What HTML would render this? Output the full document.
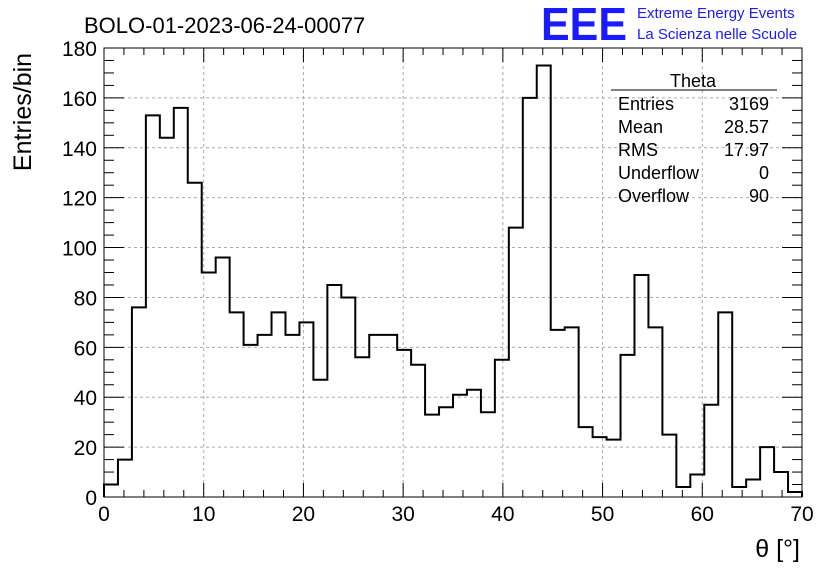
<!DOCTYPE html>
<html><head><meta charset="utf-8"><style>
body{margin:0;background:#fff}
svg{display:block;font-family:"Liberation Sans",sans-serif}
</style></head><body>
<svg id="c" width="836" height="572">
<text x="84" y="33" font-size="22">BOLO-01-2023-06-24-00077</text>
<text x="541" y="40" font-size="46" fill="#1a1aff" font-weight="bold" textLength="86" lengthAdjust="spacingAndGlyphs">EEE</text>
<text x="637" y="18" font-size="15" fill="#1a1aff">Extreme Energy Events</text>
<text x="637" y="39" font-size="15" fill="#1a1aff">La Scienza nelle Scuole</text>
<text transform="translate(31,112) rotate(-90)" font-size="25" text-anchor="middle">Entries/bin</text>
<text x="800" y="557" font-size="25" text-anchor="end">θ [°]</text>
<g id="grid"></g><g id="ticks"></g><g id="hist"></g>
<rect x="104" y="48" width="698" height="449" fill="none" stroke="#000" stroke-width="1"/>
<g font-size="18">
<line x1="611" y1="90" x2="777" y2="90" stroke="#000"/>
<text x="693" y="87" text-anchor="middle">Theta</text>
<text x="618" y="110">Entries</text><text x="769" y="110" text-anchor="end">3169</text>
<text x="618" y="133">Mean</text><text x="769" y="133" text-anchor="end">28.57</text>
<text x="618" y="156">RMS</text><text x="769" y="156" text-anchor="end">17.97</text>
<text x="618" y="179">Underflow</text><text x="769" y="179" text-anchor="end">0</text>
<text x="618" y="202">Overflow</text><text x="769" y="202" text-anchor="end">90</text>
</g>
</svg>
<script>
const counts=[5,15,76,153,144,156,126,90,96,74,61,65,74,65,70,47,85,80,56,65,65,59,53,33,36,41,43,34,55,108,160,173,67,68,28,24,23,57,89,68,25,4,9,37,74,4,7,20,10,2];
const xTicks=[0,10,20,30,40,50,60,70];
const yTicks=[0,20,40,60,80,100,120,140,160,180];
const binWidth=1.4;
const NS="http://www.w3.org/2000/svg";
const X0=104,X1=802,Y0=497,Y1=48;
const xs=v=>X0+(v-0)/70*(X1-X0);
const ys=v=>Y0-(v/180)*(Y0-Y1);
function mk(t,a,p){const e=document.createElementNS(NS,t);for(const k in a)e.setAttribute(k,a[k]);p.appendChild(e);return e;}
const grid=document.getElementById('grid'),ticks=document.getElementById('ticks'),hist=document.getElementById('hist');
xTicks.forEach(v=>{
 const x=xs(v);
 if(v>0&&v<70){const g=mk('line',{x1:x,x2:x,y1:Y1,y2:Y0,stroke:'#aaa','stroke-dasharray':'3,3'},grid);
 
 }
 mk('line',{x1:x,x2:x,y1:Y0,y2:Y0-14,stroke:'#000'},ticks);
 mk('line',{x1:x,x2:x,y1:Y1,y2:Y1+14,stroke:'#000'},ticks);
 const t=mk('text',{x:x,y:521,'font-size':21,'text-anchor':'middle'},ticks);t.textContent=v;
 
 
 if(v<70)for(let m=1;m<5;m++){const xm=xs(v+m*2);mk('line',{x1:xm,x2:xm,y1:Y0,y2:Y0-7,stroke:'#000'},ticks);mk('line',{x1:xm,x2:xm,y1:Y1,y2:Y1+7,stroke:'#000'},ticks);}
});
yTicks.forEach(v=>{
 const y=ys(v);
 if(v>0&&v<180){const g=mk('line',{x1:X0,x2:X1,y1:y,y2:y,stroke:'#aaa','stroke-dasharray':'3,3'},grid);
 
 }
 mk('line',{x1:X0,x2:X0+20,y1:y,y2:y,stroke:'#000'},ticks);
 mk('line',{x1:X1,x2:X1-20,y1:y,y2:y,stroke:'#000'},ticks);
 const t=mk('text',{x:97,y:y+8,'font-size':21,'text-anchor':'end'},ticks);t.textContent=v;
 
 
 if(v<180)for(let m=1;m<4;m++){const ym=ys(v+m*5);mk('line',{x1:X0,x2:X0+10,y1:ym,y2:ym,stroke:'#000'},ticks);mk('line',{x1:X1,x2:X1-10,y1:ym,y2:ym,stroke:'#000'},ticks);}
});
let d='M'+xs(0)+','+ys(0);
counts.forEach((c,i)=>{d+=' L'+xs(i*binWidth)+','+ys(c)+' L'+xs((i+1)*binWidth)+','+ys(c);});
d+=' L'+xs(counts.length*binWidth)+','+ys(0);
const p=mk('path',{d:d,fill:'none',stroke:'#000','stroke-width':2},hist);


</script>
</body></html>
